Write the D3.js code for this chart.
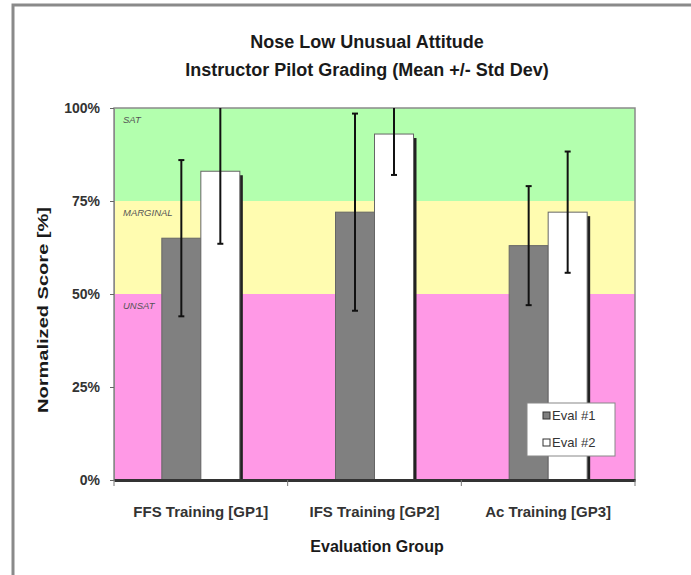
<!DOCTYPE html>
<html>
<head>
<meta charset="utf-8">
<script src="https://cdn.jsdelivr.net/npm/d3@7"></script>
<style>
  body { margin: 0; background: #fff; }
  text { font-family: "Liberation Sans", Arial, sans-serif; }
</style>
</head>
<body>
<svg width="691" height="575"></svg>
<script>
  // chart data
  var groups = ["FFS Training [GP1]", "IFS Training [GP2]", "Ac Training [GP3]"];
  var series = ["Eval #1", "Eval #2"];
  var eval1Mean = [65, 72, 63];
  var eval1Sd = [21, 26.5, 16];
  var eval2Mean = [83, 93, 72];
  var eval2Sd = [19.5, 11, 16.3];
  var yTicks = [0, 25, 50, 75, 100];
  var bands = [
    { from: 0, to: 50, label: "UNSAT", color: "#ff99e6" },
    { from: 50, to: 75, label: "MARGINAL", color: "#fffcb0" },
    { from: 75, to: 100, label: "SAT", color: "#b3ffae" }
  ];

  var svg = d3.select("svg");
  var pLeft = 114, pRight = 635, pTop = 108, pBottom = 480;

  var x = d3.scaleBand().domain(groups).range([pLeft, pRight]);
  var xs = d3.scaleBand().domain(series).range([0, 78]);
  var y = d3.scaleLinear().domain([0, 100]).range([pBottom, pTop]);

  var rows = [];
  groups.forEach(function(g, i) {
    rows.push({ g: g, s: series[0], mean: eval1Mean[i], sd: eval1Sd[i] });
    rows.push({ g: g, s: series[1], mean: eval2Mean[i], sd: eval2Sd[i] });
  });

  // outer frame
  svg.append("path").attr("d", "M13,575 V5 H691")
    .attr("fill", "none").attr("stroke", "#8a8a8a").attr("stroke-width", 3);

  // title
  var title = svg.append("text").attr("text-anchor", "middle")
    .attr("font-size", 18).attr("font-weight", "bold").attr("fill", "#1a1a1a");
  title.append("tspan").attr("x", 367).attr("y", 48).text("Nose Low Unusual Attitude");
  title.append("tspan").attr("x", 367).attr("y", 76).text("Instructor Pilot Grading (Mean +/- Std Dev)");

  svg.append("clipPath").attr("id", "plot").append("rect")
    .attr("x", pLeft).attr("y", pTop).attr("width", pRight - pLeft).attr("height", pBottom - pTop);

  // background bands
  svg.append("g").selectAll("rect").data(bands).enter().append("rect")
    .attr("x", pLeft).attr("width", pRight - pLeft)
    .attr("y", function(d) { return y(d.to); })
    .attr("height", function(d) { return y(d.from) - y(d.to); })
    .attr("fill", function(d) { return d.color; });

  svg.append("g").selectAll("text").data(bands).enter().append("text")
    .attr("x", pLeft + 9).attr("y", function(d) { return y(d.to) + 15; })
    .attr("font-size", 9.5).attr("font-style", "italic").attr("fill", "#555")
    .text(function(d) { return d.label; });

  svg.append("rect").attr("x", pLeft).attr("y", pTop)
    .attr("width", pRight - pLeft).attr("height", pBottom - pTop)
    .attr("fill", "none").attr("stroke", "#8a8a8a").attr("stroke-width", 1.5);

  // bars
  var barX = function(d) { return x(d.g) + (x.bandwidth() - 78) / 2 + xs(d.s); };
  var bars = svg.append("g");
  bars.selectAll(".shadow").data(rows.filter(function(d) { return d.s === series[1]; }))
    .enter().append("rect").attr("class", "shadow")
    .attr("x", function(d) { return barX(d) + 3; })
    .attr("y", function(d) { return y(d.mean) + 4; })
    .attr("width", xs.bandwidth())
    .attr("height", function(d) { return pBottom - y(d.mean) - 4; })
    .attr("fill", "#222");
  bars.selectAll(".bar").data(rows).enter().append("rect").attr("class", "bar")
    .attr("x", barX)
    .attr("y", function(d) { return y(d.mean); })
    .attr("width", xs.bandwidth())
    .attr("height", function(d) { return pBottom - y(d.mean); })
    .attr("fill", function(d) { return d.s === series[0] ? "#808080" : "#ffffff"; })
    .attr("stroke", "#666").attr("stroke-width", 1);

  // error bars
  var err = svg.append("g").attr("clip-path", "url(#plot)");
  var ex = function(d) { return barX(d) + xs.bandwidth() / 2; };
  err.selectAll(".whisker").data(rows).enter().append("line").attr("class", "whisker")
    .attr("x1", ex).attr("x2", ex)
    .attr("y1", function(d) { return y(d.mean + d.sd); })
    .attr("y2", function(d) { return y(d.mean - d.sd); })
    .attr("stroke", "#111").attr("stroke-width", 2);
  [1, -1].forEach(function(sign, k) {
    err.selectAll(".cap" + k).data(rows).enter().append("line").attr("class", "cap" + k)
      .attr("x1", function(d) { return ex(d) - 3; })
      .attr("x2", function(d) { return ex(d) + 3; })
      .attr("y1", function(d) { return y(d.mean + sign * d.sd); })
      .attr("y2", function(d) { return y(d.mean + sign * d.sd); })
      .attr("stroke", "#111").attr("stroke-width", 2);
  });

  // axes
  var yAxis = svg.append("g").attr("transform", "translate(" + pLeft + ",0)")
    .call(d3.axisLeft(y).tickValues(yTicks).tickSize(4).tickPadding(10)
      .tickFormat(function(d) { return d + "%"; }));
  yAxis.select(".domain").attr("stroke", "#8a8a8a");
  yAxis.selectAll(".tick line").attr("stroke", "#666");
  yAxis.selectAll("text").attr("font-size", 14).attr("font-weight", "bold").attr("fill", "#333");

  var xAxis = svg.append("g").attr("transform", "translate(0," + pBottom + ")")
    .call(d3.axisBottom(x).tickSize(0).tickPadding(26));
  xAxis.select(".domain").attr("stroke", "#333").attr("stroke-width", 3);
  xAxis.selectAll("text").attr("font-size", 15).attr("font-weight", "bold").attr("fill", "#333");
  svg.append("g").selectAll("line").data(groups.concat([null])).enter().append("line")
    .attr("x1", function(d) { return d ? x(d) : pRight; })
    .attr("x2", function(d) { return d ? x(d) : pRight; })
    .attr("y1", pBottom).attr("y2", pBottom + 6)
    .attr("stroke", "#777").attr("stroke-width", 1);

  svg.append("text").attr("x", 377).attr("y", 552).attr("text-anchor", "middle")
    .attr("font-size", 16).attr("font-weight", "bold").attr("fill", "#1a1a1a")
    .text("Evaluation Group");
  svg.append("text").attr("transform", "translate(48,310) rotate(-90)")
    .attr("text-anchor", "middle").attr("font-size", 15).attr("font-weight", "bold")
    .attr("textLength", 206).attr("lengthAdjust", "spacingAndGlyphs")
    .attr("fill", "#1a1a1a").text("Normalized Score [%]");

  // legend
  var legend = svg.append("g").attr("transform", "translate(527,403)");
  legend.append("rect").attr("width", 88).attr("height", 53)
    .attr("fill", "#fff").attr("stroke", "#888");
  legend.selectAll("rect.key").data(series).enter().append("rect").attr("class", "key")
    .attr("x", 16).attr("y", function(d, i) { return 9 + i * 27; })
    .attr("width", 7).attr("height", 7)
    .attr("fill", function(d, i) { return i === 0 ? "#808080" : "#fff"; })
    .attr("stroke", "#333");
  legend.selectAll("text.lab").data(series).enter().append("text").attr("class", "lab")
    .attr("x", 25).attr("y", function(d, i) { return 17 + i * 27; })
    .attr("font-size", 13).attr("fill", "#333").text(function(d) { return d; });
</script>
</body>
</html>
